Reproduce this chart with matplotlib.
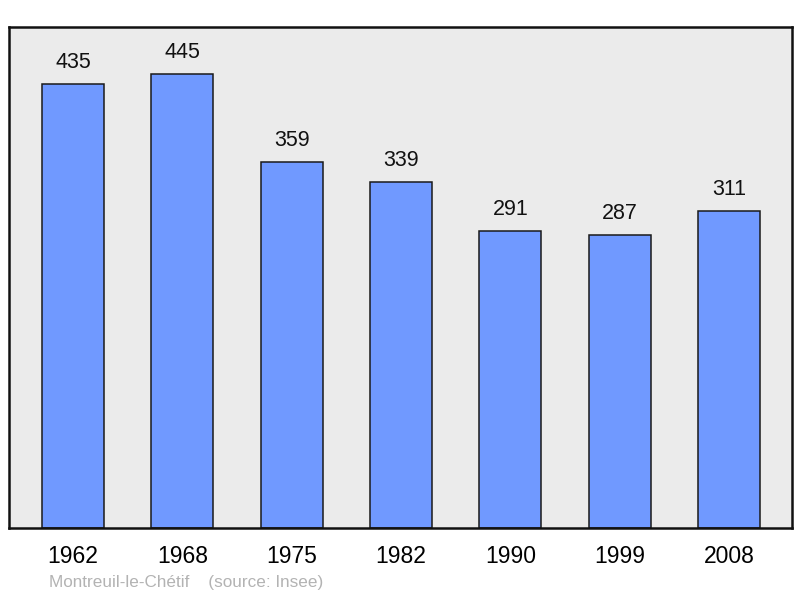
import matplotlib
matplotlib.use('Agg')
import matplotlib.pyplot as plt

plt.rcParams['font.family'] = ['Liberation Sans', 'DejaVu Sans']

years = ['1962', '1968', '1975', '1982', '1990', '1999', '2008']
population = [435, 445, 359, 339, 291, 287, 311]
place = 'Montreuil-le-Chétif'
source = '(source: Insee)'

fig = plt.figure(figsize=(8, 5.98), dpi=100)
ax = fig.add_axes([0.01125, 0.117, 0.97875, 0.838])
ax.set_facecolor('#ebebeb')

x = list(range(len(years)))
ax.bar(x, population, width=0.567, color='#7099ff', edgecolor='#1a1a1a', linewidth=1.1, zorder=2)

# value labels above bars
for xi, v in zip(x, population):
    ax.annotate(str(v), (xi, v), xytext=(0, 8), textcoords='offset points',
                ha='center', va='bottom', fontsize=15.5, color='#111111')

ax.set_xlim(-0.585, 6.576)
ax.set_ylim(0, 491)
ax.set_yticks([])
ax.set_xticks(x)
ax.set_xticklabels(years, fontsize=16.5)
ax.tick_params(axis='x', length=0, pad=12)
for s in ax.spines.values():
    s.set_linewidth(1.8)
    s.set_color('#111111')

fig.text(49 / 800, 1 - 583 / 598, place + '    ' + source, fontsize=12.3,
         color='#b3b3b3', ha='left', va='center')

fig.savefig('out.png', dpi=100)
